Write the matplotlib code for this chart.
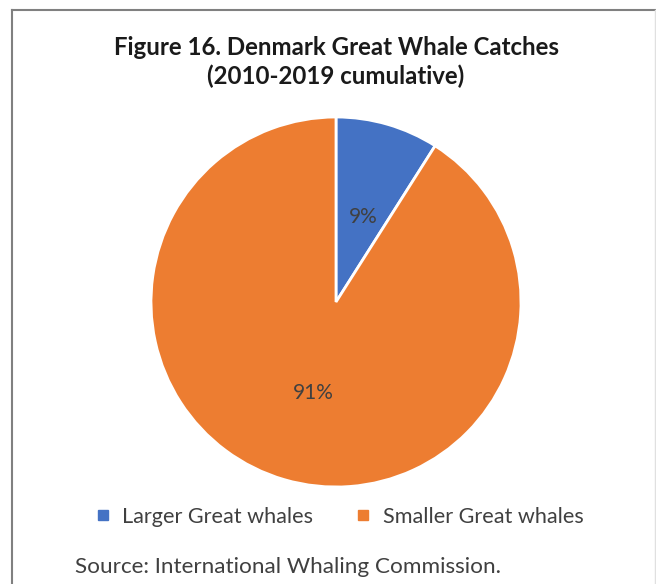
import matplotlib
matplotlib.use("Agg")
import matplotlib.pyplot as plt
from matplotlib.lines import Line2D

# data
labels = ["Larger Great whales", "Smaller Great whales"]
shares = [9, 91]
colors = ["#4472C4", "#ED7D31"]
title = "Figure 16. Denmark Great Whale Catches\n(2010-2019 cumulative)"
source = "Source: International Whaling Commission."

plt.rcParams["font.family"] = ["Lato", "DejaVu Sans"]

W, H = 656, 584
fig = plt.figure(figsize=(W / 100, H / 100), dpi=100)

# pie axes: centre ~ (336, 302), radius ~ 185 px
cx, cy, r = 336, 302, 185
ax = fig.add_axes([(cx - r) / W, 1 - (cy + r) / H, 2 * r / W, 2 * r / H])
wedges, texts, autotexts = ax.pie(
    shares,
    colors=colors,
    startangle=90,
    counterclock=False,
    autopct="%d%%",
    wedgeprops=dict(edgecolor="white", linewidth=2),
    textprops=dict(color="#404040", fontsize=15),
)
# label positions as in the reference
autotexts[0].set_position((0.15, 0.46))
autotexts[1].set_position((-0.12, -0.49))
ax.set_xlim(-1, 1)
ax.set_ylim(-1, 1)
ax.set_aspect("equal")
ax.axis("off")

fig.text(336 / W, 1 - 62 / H, title, ha="center", va="center",
         fontsize=17.3, fontweight="bold", color="#1a1a1a", linespacing=1.25)

# legend
handles = [Line2D([0], [0], marker="s", linestyle="none", markersize=7,
                  markerfacecolor=c, markeredgecolor=c) for c in colors]
fig.legend(handles, labels, loc="center", bbox_to_anchor=(340 / W, 1 - 517 / H),
           ncol=2, frameon=False, fontsize=15.6, handletextpad=0.6,
           columnspacing=2.0, labelcolor="#404040", handlelength=0.6,
           borderpad=0, borderaxespad=0)

fig.text(75 / W, 1 - 567 / H, source, ha="left", va="center",
         fontsize=16.2, color="#404040")

# chart border
fig.add_artist(Line2D([12 / W, 12 / W], [0, 1 - 10 / H], color="#808080", lw=1.5))
fig.add_artist(Line2D([12 / W, 1], [1 - 10 / H, 1 - 10 / H], color="#808080", lw=1.5))
fig.add_artist(Line2D([655 / W, 655 / W], [0, 1 - 10 / H], color="#e0e0e0", lw=1))

fig.savefig("out.png", dpi=100)
plt.close()
